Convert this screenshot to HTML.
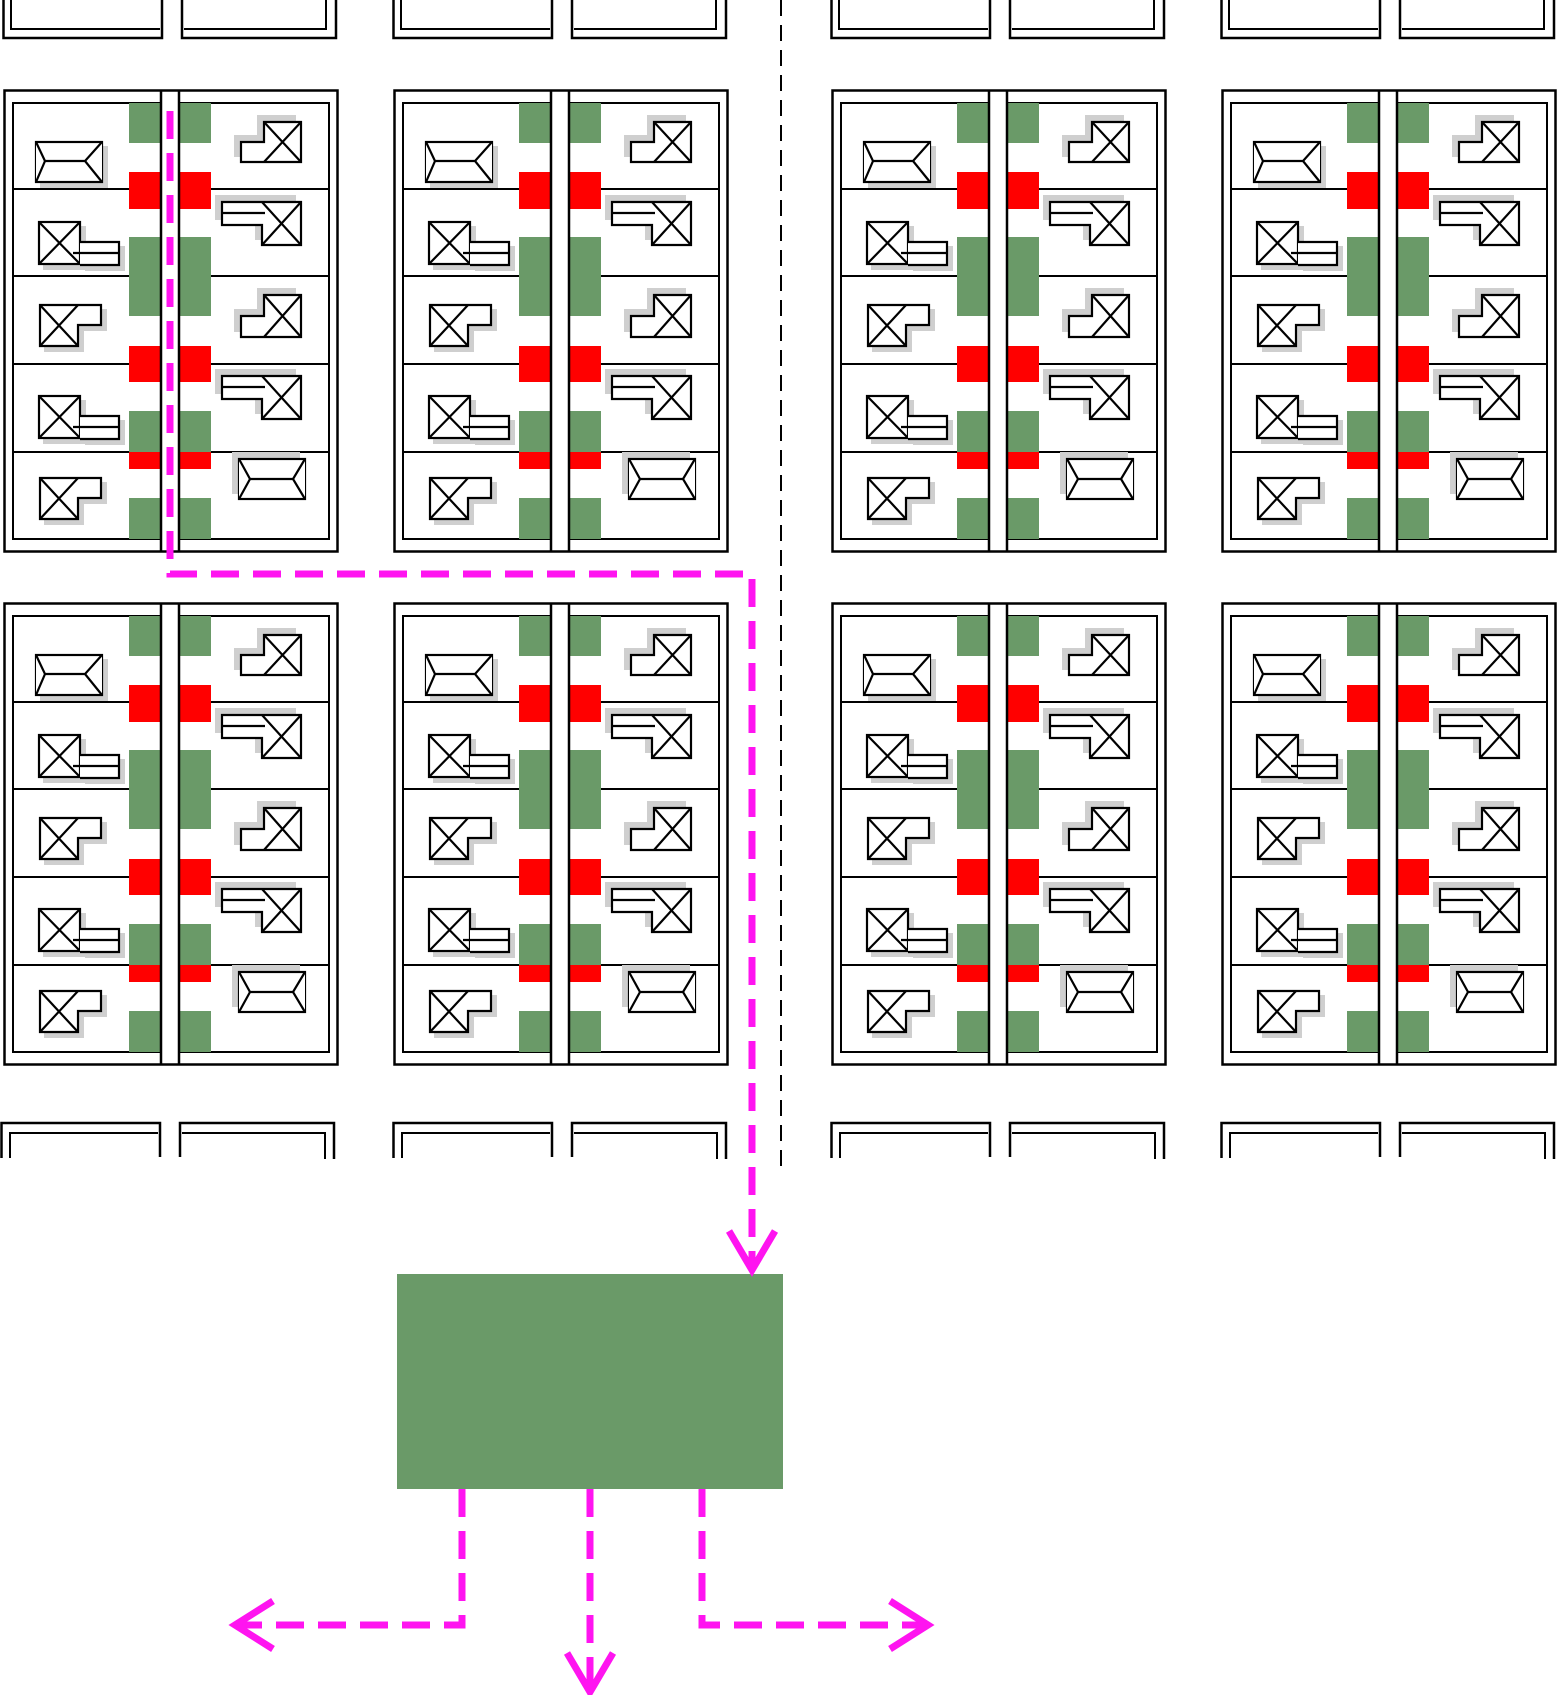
<!DOCTYPE html>
<html><head><meta charset="utf-8"><style>html,body{margin:0;padding:0;background:#fff}svg{display:block}</style></head>
<body>
<svg width="1560" height="1695" viewBox="0 0 1560 1695" xmlns="http://www.w3.org/2000/svg">
<defs>
<g id="hl">
<rect x="33" y="53" width="66" height="40"/>
<path d="M33 53L42 72L33 93M99 53L82 72L99 93M42 72H82"/>
<rect x="36" y="133" width="41" height="42"/>
<path d="M36 133L77 175M77 133L36 175"/>
<path d="M77 153H116V176H77M70 164H116"/>
<path d="M37 216H98V236H75V257H37Z"/>
<path d="M37 216L75 257M75 216L37 257"/>
<rect x="36" y="307" width="41" height="42"/>
<path d="M36 307L77 349M77 307L36 349"/>
<path d="M77 327H116V350H77M70 338H116"/>
<path d="M37 389H98V409H75V430H37Z"/>
<path d="M37 389L75 430M75 389L37 430"/>
</g>
<g id="hr">
<path d="M238 53H261V33H298V73H238Z"/>
<path d="M261 33L298 73M298 33L261 73"/>
<path d="M219 113H298V156H259V136H219Z"/>
<path d="M219 124H262M259 113L298 156M298 113L259 156"/>
<path d="M238 227H261V206H298V248H238Z"/>
<path d="M261 206L298 248M298 206L261 248"/>
<path d="M219 287H298V330H259V310H219Z"/>
<path d="M219 298H262M259 287L298 330M298 287L259 330"/>
<rect x="236" y="370" width="66" height="40"/>
<path d="M236 370L247 390L236 410M302 370L290 390L302 410M247 390H290"/>
</g>
<g id="blk">
<rect x="1.5" y="1.5" width="333" height="461" fill="#fff"/>
<rect x="10" y="14" width="316" height="436" fill="none" stroke="#000" stroke-width="2"/>
<path d="M10 100H326M10 187H326M10 275H326M10 363H326" stroke="#000" stroke-width="2"/>
<g fill="#6a9a68">
<rect x="126" y="14" width="31" height="40"/><rect x="177" y="14" width="31" height="40"/>
<rect x="126" y="148" width="31" height="79"/><rect x="177" y="148" width="31" height="79"/>
<rect x="126" y="322" width="31" height="41"/><rect x="177" y="322" width="31" height="41"/>
<rect x="126" y="409" width="31" height="41"/><rect x="177" y="409" width="31" height="41"/>
</g>
<g fill="#ff0000">
<rect x="126" y="83" width="31" height="37"/><rect x="177" y="83" width="31" height="37"/>
<rect x="126" y="257" width="31" height="36"/><rect x="177" y="257" width="31" height="36"/>
<rect x="126" y="363" width="31" height="17"/><rect x="177" y="363" width="31" height="17"/>
</g>
<rect x="158" y="2" width="18" height="460" fill="#fff"/>
<path d="M158 1.5V462.5M176 1.5V462.5" stroke="#000" stroke-width="2.5"/>
<rect x="1.5" y="1.5" width="333" height="461" fill="none" stroke="#000" stroke-width="2.5"/>
<use href="#hl" transform="translate(5,5)" fill="#cfcfcf" stroke="#cfcfcf" stroke-width="2"/>
<use href="#hr" transform="translate(-6,-6)" fill="#cfcfcf" stroke="#cfcfcf" stroke-width="2"/>
<use href="#hl" fill="#fff" stroke="#000" stroke-width="2.2"/>
<use href="#hr" fill="#fff" stroke="#000" stroke-width="2.2"/>
</g>
<g id="top" fill="none" stroke="#000">
<path d="M1.5 0V38H160V0M180 0V38H334V0" stroke-width="2.5"/>
<path d="M9 0V29H158M182 29H324V0" stroke-width="2"/>
</g>
<g id="bot" fill="none" stroke="#000">
<path d="M1.5 1158V1123H160V1157M180 1157V1123H334V1159" stroke-width="2.5"/>
<path d="M10 1158V1133H158M182 1133H325V1159" stroke-width="2"/>
</g>
</defs>
<use href="#top" x="2"/><use href="#top" x="392"/><use href="#top" x="830"/><use href="#top" x="1220"/>
<use href="#bot" x="0"/><use href="#bot" x="392"/><use href="#bot" x="830"/><use href="#bot" x="1220"/>
<use href="#blk" x="3" y="89"/><use href="#blk" x="393" y="89"/><use href="#blk" x="831" y="89"/><use href="#blk" x="1221" y="89"/>
<use href="#blk" x="3" y="602"/><use href="#blk" x="393" y="602"/><use href="#blk" x="831" y="602"/><use href="#blk" x="1221" y="602"/>
<path d="M781 0V1171" stroke="#000" stroke-width="2" stroke-dasharray="16 9"/>
<rect x="397" y="1274" width="386" height="215" fill="#6a9a68"/>
<g fill="none" stroke="#ff14f0" stroke-width="7">
<path d="M170 111V574H752V1268" stroke-dasharray="28 14"/>
<path d="M729 1231L752 1270L775 1231"/>
<path d="M462 1489V1625H238M702 1489V1625H926M590 1489V1690" stroke-dasharray="28 14"/>
<path d="M273 1601L235 1625L273 1649"/>
<path d="M890 1601L928 1625L890 1649"/>
<path d="M567 1653L590 1692L613 1653"/>
</g>
</svg>
</body></html>
